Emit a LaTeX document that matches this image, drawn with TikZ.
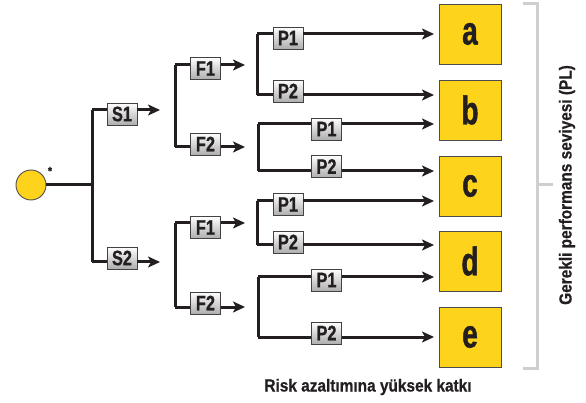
\documentclass[tikz,border=0pt]{standalone}
\usepackage{fontspec}
\usetikzlibrary{arrows.meta}
\newfontfamily\capfont[FakeStretch=0.88,FakeBold=0.6]{Liberation Sans Bold}
\newfontfamily\tagfont[FakeStretch=0.78,FakeBold=0.8]{Liberation Sans Bold}
\newfontfamily\levelfont[FakeStretch=0.7,FakeBold=1]{Liberation Sans Bold}
\definecolor{ink}{HTML}{231F20}
\definecolor{levelyellow}{HTML}{FDD31C}
\definecolor{bracketgray}{HTML}{CFCFCF}
\begin{document}
\begin{tikzpicture}[x=1pt,y=-1pt,
  link/.style={draw=ink,line width=3pt},
  arr/.style={link,-{Stealth[length=12pt,width=11pt,inset=3pt]}},
  tag/.style={draw=ink!85,line width=0.9pt,top color=white,bottom color=black!32,
    minimum width=30pt,minimum height=22pt,inner sep=0pt,text=ink,
    font=\tagfont\fontsize{21}{21}\selectfont},
  level/.style={draw=ink!80,line width=0.9pt,fill=levelyellow,
    minimum width=62pt,minimum height=60pt,inner sep=0pt,text=ink,
    font=\levelfont\fontsize{40}{40}\selectfont},
  caption/.style={text=ink,inner sep=0pt,font=\capfont\fontsize{17.5}{17.5}\selectfont}]
\useasboundingbox (0,0) rectangle (586,403);

% start point
\node[circle,draw=ink!80,line width=0.9pt,fill=levelyellow,minimum size=30pt,inner sep=0pt] (root) at (31,185) {};
\node[text=ink,inner sep=0pt,font=\capfont\fontsize{12}{12}\selectfont] (star) at (50,171) {*};

% performance levels
\node[level] (a) at (470,34) {a};
\node[level] (b) at (470,110) {b};
\node[level] (c) at (470,186) {c};
\node[level] (d) at (470,261) {d};
\node[level] (e) at (470,337) {e};
\coordinate (tip) at (434,0);

% S level
\node[tag] (S1) at (122,114) {S1};
\node[tag] (S2) at (122,258) {S2};
\coordinate (jR) at (92,185);
\coordinate (jS1) at (92,110);
\coordinate (jS2) at (92,262);
\coordinate (aS) at (160,0);
\draw[link] (root) -- (jR);
\draw[link] (jS1) -- (jS2);
\draw[link] (jS1) -- (jS1 -| S1.west);
\draw[link] (jS2) -- (jS2 -| S2.west);
\draw[arr] (jS1 -| S1.east) -- (jS1 -| aS);
\draw[arr] (jS2 -| S2.east) -- (jS2 -| aS);

% F level
\node[tag] (F1a) at (205.5,68.5) {F1};
\node[tag] (F2a) at (205.5,144) {F2};
\node[tag] (F1b) at (205.5,227.5) {F1};
\node[tag] (F2b) at (205.5,303) {F2};
\coordinate (jF1a) at (175,65);
\coordinate (jF2a) at (175,147);
\coordinate (jF1b) at (175,223);
\coordinate (jF2b) at (175,307);
\coordinate (aF) at (245,0);
\draw[link] (jF1a) -- (jF2a);
\draw[link] (jF1b) -- (jF2b);
\foreach \f in {F1a,F2a,F1b,F2b}{
  \draw[link] (j\f) -- (j\f -| \f.west);
  \draw[arr] (j\f -| \f.east) -- (j\f -| aF);
}

% P level
\node[tag] (P1a) at (288,38) {P1};
\node[tag] (P2a) at (288,91) {P2};
\node[tag] (P1b) at (326.5,129) {P1};
\node[tag] (P2b) at (326.5,166.5) {P2};
\node[tag] (P1c) at (288,204.5) {P1};
\node[tag] (P2c) at (288,242) {P2};
\node[tag] (P1d) at (326.5,280) {P1};
\node[tag] (P2d) at (326.5,333) {P2};
\coordinate (jP1a) at (257,34);
\coordinate (jP2a) at (257,95);
\coordinate (jP1b) at (258,124);
\coordinate (jP2b) at (258,171);
\coordinate (jP1c) at (257,201);
\coordinate (jP2c) at (257,245);
\coordinate (jP1d) at (258,277);
\coordinate (jP2d) at (258,337);
\foreach \g in {a,b,c,d}{
  \draw[link] (jP1\g) -- (jP2\g);
}
\foreach \p in {P1a,P2a,P1b,P2b,P1c,P2c,P1d,P2d}{
  \draw[link] (j\p) -- (j\p -| \p.west);
  \draw[arr] (j\p -| \p.east) -- (j\p -| tip);
}

% bracket for the required performance level
\coordinate (bT) at (523,4);
\coordinate (bB) at (523,368);
\coordinate (bM) at (553,185);
\draw[draw=bracketgray,line width=3pt] (bT) -| (bB -| 537,0) -- (bB);
\draw[draw=bracketgray,line width=3pt] (537,185) -- (bM);
\node[caption,rotate=90] (pl) at (567,185) {Gerekli performans seviyesi (PL)};
\node[caption] (risk) at (368,387) {Risk azaltımına yüksek katkı};
\end{tikzpicture}
\end{document}
